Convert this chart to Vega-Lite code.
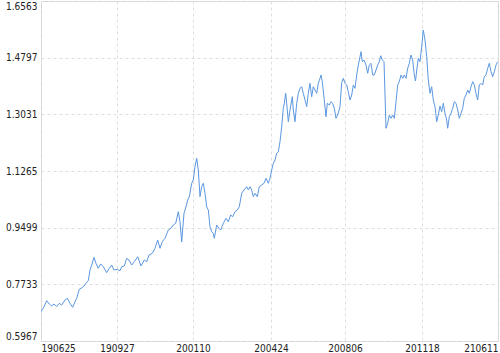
{
  "$schema": "https://vega.github.io/schema/vega-lite/v6.json",
  "width": 457,
  "height": 340,
  "autosize": "none",
  "padding": {"left": 41, "top": 1, "right": 2, "bottom": 12},
  "background": "white",
  "config": {
    "view": {"stroke": "#d4d4d4", "strokeWidth": 1},
    "axis": {
      "labelFont": "DejaVu Sans Condensed, Liberation Sans",
      "labelFontSize": 10,
      "labelColor": "#222222",
      "ticks": false,
      "domain": false,
      "gridColor": "#dedede",
      "gridDash": [3, 3],
      "gridWidth": 1,
      "title": null
    }
  },
  "data": {
    "values": [
      {"t": 0, "v": 0.6880}, {"t": 3, "v": 0.7036}, {"t": 5.7, "v": 0.7223}, {"t": 8.3, "v": 0.7120},
      {"t": 10.7, "v": 0.7058}, {"t": 13, "v": 0.7120}, {"t": 15.7, "v": 0.7036}, {"t": 18.3, "v": 0.7142},
      {"t": 20.7, "v": 0.7089}, {"t": 24, "v": 0.7245}, {"t": 26.3, "v": 0.7298}, {"t": 29, "v": 0.7142},
      {"t": 31.7, "v": 0.7017}, {"t": 34, "v": 0.7192}, {"t": 35.7, "v": 0.7298}, {"t": 38.3, "v": 0.7578},
      {"t": 41.7, "v": 0.7640}, {"t": 45, "v": 0.7765}, {"t": 47.3, "v": 0.7846}, {"t": 49, "v": 0.8180},
      {"t": 50.7, "v": 0.8335}, {"t": 53, "v": 0.8575}, {"t": 55, "v": 0.8388}, {"t": 57.3, "v": 0.8233},
      {"t": 59.7, "v": 0.8367}, {"t": 62.3, "v": 0.8282}, {"t": 65.7, "v": 0.8096}, {"t": 68.3, "v": 0.8233},
      {"t": 70.7, "v": 0.8335}, {"t": 73, "v": 0.8180}, {"t": 76.3, "v": 0.8201}, {"t": 79, "v": 0.8158},
      {"t": 80.7, "v": 0.8282}, {"t": 83.3, "v": 0.8304}, {"t": 85.7, "v": 0.8544}, {"t": 88, "v": 0.8491},
      {"t": 90.7, "v": 0.8335}, {"t": 93.3, "v": 0.8438}, {"t": 96.7, "v": 0.8594}, {"t": 100, "v": 0.8304},
      {"t": 103.3, "v": 0.8491}, {"t": 105.7, "v": 0.8438}, {"t": 108, "v": 0.8647}, {"t": 111.3, "v": 0.8700},
      {"t": 114, "v": 0.8856}, {"t": 116.7, "v": 0.9115}, {"t": 119, "v": 0.8856}, {"t": 121.3, "v": 0.9062},
      {"t": 124, "v": 0.9168}, {"t": 127.3, "v": 0.9426}, {"t": 130, "v": 0.9479}, {"t": 132.3, "v": 0.9582},
      {"t": 134.7, "v": 0.9635}, {"t": 137.3, "v": 0.9997}, {"t": 139, "v": 0.9685}, {"t": 140.7, "v": 0.9050},
      {"t": 143, "v": 0.9947}, {"t": 145, "v": 1.0152}, {"t": 146.7, "v": 1.0361}, {"t": 148.5, "v": 1.0486},
      {"t": 150.7, "v": 1.0882}, {"t": 152.3, "v": 1.0984}, {"t": 154, "v": 1.1399}, {"t": 155.7, "v": 1.1661},
      {"t": 157.3, "v": 1.1296}, {"t": 159, "v": 1.0464}, {"t": 160.7, "v": 1.0776}, {"t": 162.3, "v": 1.0882},
      {"t": 164, "v": 1.0570}, {"t": 165.7, "v": 1.0152}, {"t": 167.3, "v": 1.0050}, {"t": 169, "v": 0.9529},
      {"t": 170.7, "v": 0.9373}, {"t": 172.3, "v": 0.9323}, {"t": 173.3, "v": 0.9168}, {"t": 175.7, "v": 0.9582},
      {"t": 178, "v": 0.9479}, {"t": 179.7, "v": 0.9426}, {"t": 182.3, "v": 0.9635}, {"t": 185, "v": 0.9791},
      {"t": 187.3, "v": 0.9685}, {"t": 189.7, "v": 0.9894}, {"t": 191.7, "v": 0.9841}, {"t": 194, "v": 0.9997},
      {"t": 196.3, "v": 1.0050}, {"t": 198.3, "v": 1.0152}, {"t": 200.7, "v": 1.0570}, {"t": 203, "v": 1.0673},
      {"t": 205.7, "v": 1.0776}, {"t": 207.3, "v": 1.0673}, {"t": 209, "v": 1.0776}, {"t": 210.7, "v": 1.0673},
      {"t": 212.3, "v": 1.0464}, {"t": 214, "v": 1.0570}, {"t": 216.3, "v": 1.0464}, {"t": 218.3, "v": 1.0776},
      {"t": 220.7, "v": 1.0829}, {"t": 223, "v": 1.0882}, {"t": 225, "v": 1.1037}, {"t": 227.3, "v": 1.0882},
      {"t": 229, "v": 1.1037}, {"t": 230.7, "v": 1.1296}, {"t": 232.3, "v": 1.1505}, {"t": 234, "v": 1.1608},
      {"t": 235.7, "v": 1.1817}, {"t": 237.3, "v": 1.1866}, {"t": 239, "v": 1.2178}, {"t": 240.7, "v": 1.2646},
      {"t": 242.3, "v": 1.3219}, {"t": 243.3, "v": 1.3375}, {"t": 244.7, "v": 1.3686}, {"t": 245.7, "v": 1.3375},
      {"t": 247.3, "v": 1.2801}, {"t": 249, "v": 1.3166}, {"t": 251.3, "v": 1.3581}, {"t": 252.3, "v": 1.3166},
      {"t": 254, "v": 1.2801}, {"t": 255.7, "v": 1.3375}, {"t": 257.3, "v": 1.3686}, {"t": 259, "v": 1.3842},
      {"t": 260.7, "v": 1.3892}, {"t": 262.3, "v": 1.3686}, {"t": 264, "v": 1.3478}, {"t": 265.7, "v": 1.3269},
      {"t": 267.3, "v": 1.3686}, {"t": 269, "v": 1.3998}, {"t": 270.7, "v": 1.3581}, {"t": 272.3, "v": 1.3892},
      {"t": 274, "v": 1.3789}, {"t": 275.7, "v": 1.3686}, {"t": 277.3, "v": 1.3998}, {"t": 279, "v": 1.4154},
      {"t": 280, "v": 1.4257}, {"t": 281.3, "v": 1.4048}, {"t": 283.3, "v": 1.3478}, {"t": 285, "v": 1.2957},
      {"t": 286.3, "v": 1.3375}, {"t": 288.3, "v": 1.3322}, {"t": 290, "v": 1.3425}, {"t": 291.7, "v": 1.3375},
      {"t": 293.3, "v": 1.3219}, {"t": 295, "v": 1.2907}, {"t": 296.7, "v": 1.3010}, {"t": 299, "v": 1.3269},
      {"t": 300.7, "v": 1.4023}, {"t": 302.3, "v": 1.4154}, {"t": 304, "v": 1.3998}, {"t": 305.7, "v": 1.3945},
      {"t": 307.3, "v": 1.3736}, {"t": 309, "v": 1.3478}, {"t": 310.7, "v": 1.3633}, {"t": 312.3, "v": 1.3945},
      {"t": 314, "v": 1.3842}, {"t": 315.7, "v": 1.4257}, {"t": 317.3, "v": 1.4568}, {"t": 319, "v": 1.4827},
      {"t": 320, "v": 1.4983}, {"t": 321.3, "v": 1.4671}, {"t": 323, "v": 1.4724}, {"t": 325, "v": 1.4568},
      {"t": 326.7, "v": 1.4310}, {"t": 328.3, "v": 1.4568}, {"t": 330, "v": 1.4621}, {"t": 331.7, "v": 1.4257},
      {"t": 333.3, "v": 1.4257}, {"t": 335, "v": 1.4413}, {"t": 336.7, "v": 1.4568}, {"t": 338.3, "v": 1.4671},
      {"t": 339.7, "v": 1.4858}, {"t": 341.3, "v": 1.4724}, {"t": 343, "v": 1.4671}, {"t": 344, "v": 1.3633},
      {"t": 345, "v": 1.2596}, {"t": 346.7, "v": 1.2752}, {"t": 348.3, "v": 1.3010}, {"t": 350, "v": 1.2907},
      {"t": 351.7, "v": 1.3010}, {"t": 353.3, "v": 1.2907}, {"t": 355, "v": 1.3425}, {"t": 356.7, "v": 1.3945},
      {"t": 358.3, "v": 1.4048}, {"t": 360, "v": 1.4257}, {"t": 361.7, "v": 1.4154}, {"t": 363.3, "v": 1.4257},
      {"t": 365, "v": 1.4154}, {"t": 366.7, "v": 1.4466}, {"t": 368.3, "v": 1.4621}, {"t": 370, "v": 1.4880},
      {"t": 371.7, "v": 1.4724}, {"t": 373.3, "v": 1.4257}, {"t": 374.5, "v": 1.4070}, {"t": 376, "v": 1.4475},
      {"t": 377.3, "v": 1.4777}, {"t": 379, "v": 1.4671}, {"t": 380.7, "v": 1.5139}, {"t": 382.3, "v": 1.5659},
      {"t": 384, "v": 1.5348}, {"t": 385.7, "v": 1.4827}, {"t": 387.3, "v": 1.4101}, {"t": 389, "v": 1.3686},
      {"t": 390.7, "v": 1.3892}, {"t": 392.3, "v": 1.3478}, {"t": 394, "v": 1.3269}, {"t": 395.7, "v": 1.2801},
      {"t": 397.3, "v": 1.3010}, {"t": 399, "v": 1.3291}, {"t": 400.7, "v": 1.3113}, {"t": 402.3, "v": 1.3375},
      {"t": 404, "v": 1.3063}, {"t": 405.7, "v": 1.2854}, {"t": 406.7, "v": 1.2596}, {"t": 408.3, "v": 1.2957},
      {"t": 410, "v": 1.3063}, {"t": 411.7, "v": 1.3219}, {"t": 413.3, "v": 1.3425}, {"t": 415, "v": 1.3375},
      {"t": 416.7, "v": 1.3166}, {"t": 418.3, "v": 1.2907}, {"t": 420, "v": 1.3063}, {"t": 421.7, "v": 1.3219},
      {"t": 423.3, "v": 1.3531}, {"t": 425, "v": 1.3633}, {"t": 426.7, "v": 1.3789}, {"t": 428.3, "v": 1.3686},
      {"t": 430, "v": 1.3892}, {"t": 431.7, "v": 1.4048}, {"t": 433.3, "v": 1.3945}, {"t": 435, "v": 1.3686},
      {"t": 436.7, "v": 1.3478}, {"t": 438.3, "v": 1.3945}, {"t": 440, "v": 1.3998}, {"t": 441.7, "v": 1.3945},
      {"t": 443.3, "v": 1.4204}, {"t": 445, "v": 1.4257}, {"t": 446.7, "v": 1.4466}, {"t": 448.3, "v": 1.4621},
      {"t": 450, "v": 1.4360}, {"t": 451.7, "v": 1.4204}, {"t": 453.3, "v": 1.4360}, {"t": 455, "v": 1.4568},
      {"t": 456.7, "v": 1.4671}
    ]
  },
  "mark": {"type": "line", "color": "#5b97e0", "strokeWidth": 1, "clip": true},
  "encoding": {
    "x": {
      "field": "t",
      "type": "quantitative",
      "scale": {"domain": [0, 457], "nice": false, "zero": false},
      "axis": {
        "values": [0, 76, 152, 230, 304, 381, 457],
        "labelExpr": "datum.value == 0 ? '190625' : datum.value == 76 ? '190927' : datum.value == 152 ? '200110' : datum.value == 230 ? '200424' : datum.value == 304 ? '200806' : datum.value == 381 ? '201118' : '210611'",
        "labelFlush": true,
        "labelPadding": 2,
        "labelOverlap": false
      }
    },
    "y": {
      "field": "v",
      "type": "quantitative",
      "scale": {"domain": [0.5967, 1.6563], "nice": false, "zero": false},
      "axis": {
        "values": [0.5967, 0.7733, 0.9499, 1.1265, 1.3031, 1.4797, 1.6563],
        "format": ".4f",
        "labelFlush": true,
        "labelPadding": 4,
        "labelOverlap": false
      }
    }
  }
}
